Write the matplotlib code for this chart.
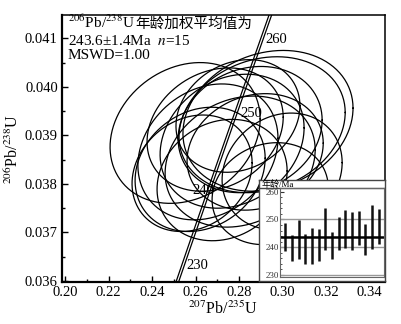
import numpy as np
import matplotlib
matplotlib.use('Agg')
import matplotlib.pyplot as plt
from matplotlib.ticker import MultipleLocator, FormatStrFormatter

plt.rcParams['font.family'] = ['Liberation Serif', 'Noto Sans CJK SC']
plt.rcParams['mathtext.fontset'] = 'stix'

# analyses: 207Pb/235U, 206Pb/238U, error half-extents, correlation
x207 = [0.2552, 0.2933, 0.2906, 0.2851, 0.2657, 0.2621, 0.2722, 0.2805,
        0.2998, 0.2943, 0.2690, 0.2768, 0.2584, 0.2874, 0.2795]
y206 = [0.03905, 0.03930, 0.03922, 0.03912, 0.03866, 0.03830, 0.03808, 0.03846,
        0.03826, 0.03780, 0.03912, 0.03888, 0.03822, 0.03866, 0.03940]
err207 = [0.0345, 0.0391, 0.0382, 0.0331, 0.0322, 0.0299, 0.0299, 0.0345,
          0.0276, 0.0267, 0.0313, 0.0331, 0.0276, 0.0313, 0.0285]
err206 = [0.00145, 0.00145, 0.00140, 0.00130, 0.00140, 0.00128, 0.00125, 0.00135,
          0.00120, 0.00105, 0.00127, 0.00138, 0.00120, 0.00120, 0.00116]
rho = [0.2, 0.18, 0.18, 0.15, 0.2, 0.18, 0.15, 0.18,
       0.15, 0.12, 0.2, 0.2, 0.18, 0.15, 0.18]

# 206Pb/238U ages for the inset (bar ends)
age_hi = [248.8, 244.4, 249.8, 244.6, 246.8, 246.5, 254.1, 245.6,
          250.8, 253.5, 252.6, 253.2, 248.2, 255.1, 253.9]
age_lo = [238.5, 235.2, 235.9, 234.1, 234.1, 235.0, 239.0, 235.6,
          239.0, 239.6, 238.9, 240.9, 237.1, 239.2, 241.2]
mean_age = 243.6

conc_ages = [230, 240, 250, 260]
lam238 = 1.55125e-4  # per Ma
lam235 = 9.8485e-4

W, H = 401, 324
def fx(px):
    return px / W
def fy(py):
    return 1 - py / H

fig = plt.figure(figsize=(4.01, 3.24), dpi=100)
fig.patch.set_facecolor('white')
ax = fig.add_axes([fx(62), fy(282), fx(385) - fx(62), fy(15) - fy(282)])

# error ellipses
th = np.linspace(0, 2 * np.pi, 200)
for i in range(len(x207)):
    ex = x207[i] + err207[i] * np.cos(th)
    ey = y206[i] + err206[i] * (rho[i] * np.cos(th) + np.sqrt(1 - rho[i] ** 2) * np.sin(th))
    ax.plot(ex, ey, color='black', lw=0.9)

# concordia (double line)
t = np.linspace(215, 275, 300)
cx = np.exp(lam235 * t) - 1
cy = np.exp(lam238 * t) - 1
ax.plot(cx - 0.0006, cy, color='black', lw=0.9)
ax.plot(cx + 0.0006, cy, color='black', lw=0.9)

offs = {230: (3, 0, 'left'), 240: (4, -3, 'right'), 250: (3, -4, 'left'), 260: (1, -9, 'left')}
for a in conc_ages:
    px_ = np.exp(lam235 * a) - 1
    py_ = np.exp(lam238 * a) - 1
    dx, dy, ha = offs[a]
    ax.annotate(str(a), (px_, py_), xytext=(dx, dy), textcoords='offset pixels',
                ha=ha, va='center', fontsize=10.5)

ax.set_xlim(0.1986, 0.3471)
ax.set_ylim(0.03598, 0.04148)
ax.xaxis.set_major_locator(MultipleLocator(0.02))
ax.xaxis.set_minor_locator(MultipleLocator(0.01))
ax.yaxis.set_major_locator(MultipleLocator(0.001))
ax.yaxis.set_minor_locator(MultipleLocator(0.0005))
ax.xaxis.set_major_formatter(FormatStrFormatter('%.2f'))
ax.yaxis.set_major_formatter(FormatStrFormatter('%.3f'))
ax.tick_params(which='both', direction='in', top=False, right=False, labelsize=10.5, pad=3)
ax.tick_params(which='major', length=4, width=1)
ax.tick_params(which='minor', length=2, width=1)
for s in ['left', 'bottom']:
    ax.spines[s].set_linewidth(1.6)
for s in ['top', 'right']:
    ax.spines[s].set_linewidth(1.1)
ax.set_xlabel(r'$^{207}$Pb/$^{235}$U', fontsize=11.5, labelpad=1)
ax.set_ylabel(r'$^{206}$Pb/$^{238}$U', fontsize=11.5, labelpad=2)

# weighted mean text
t1 = fig.text(fx(68), fy(28), r'$^{206}$Pb/$^{238}$U', fontsize=11, va='baseline')
fig.canvas.draw()
bb = t1.get_window_extent(fig.canvas.get_renderer())
fig.text(bb.x1 / W, fy(28), '年龄加权平均值为', fontsize=10.5, va='baseline')
fig.text(fx(68), fy(45), r'243.6±1.4Ma  $n$=15', fontsize=11, va='baseline')
fig.text(fx(68), fy(59), 'MSWD=1.00', fontsize=11, va='baseline')

# inset with age bars
axf = fig.add_axes([fx(259), fy(281), fx(385) - fx(259), fy(180) - fy(281)])
axf.set_xticks([])
axf.set_yticks([])
for s in axf.spines.values():
    s.set_color('#444444')
    s.set_linewidth(1)
axf.axhline((281 - 188) / 101, color='#444444', lw=1)
axf.text(0.02, 1.0, '年龄/Ma', transform=axf.transAxes, fontsize=6.5, va='top', ha='left')

ax2 = fig.add_axes([fx(280), fy(277), fx(384) - fx(280), fy(188) - fy(277)])
ax2.patch.set_alpha(0)
idx = np.arange(1, len(age_hi) + 1)
for v in [230, 240, 250]:
    ax2.axhline(v, color='#999999', lw=1)
ax2.vlines(idx, age_lo, age_hi, color='#111111', lw=1.8)
ax2.axhline(mean_age, color='black', lw=1.8)
ax2.set_xlim(0.2, 15.8)
ax2.set_ylim(229.3, 261.3)
ax2.set_xticks([])
ax2.yaxis.set_major_locator(MultipleLocator(10))
ax2.yaxis.set_minor_locator(MultipleLocator(2))
ax2.tick_params(axis='y', which='both', direction='in', labelsize=6.5, pad=1, colors='#333333')
ax2.tick_params(axis='y', which='major', length=3)
ax2.tick_params(axis='y', which='minor', length=1.5)
for s in ax2.spines.values():
    s.set_color('#666666')
    s.set_linewidth(0.8)

fig.savefig('out.png', dpi=100)
